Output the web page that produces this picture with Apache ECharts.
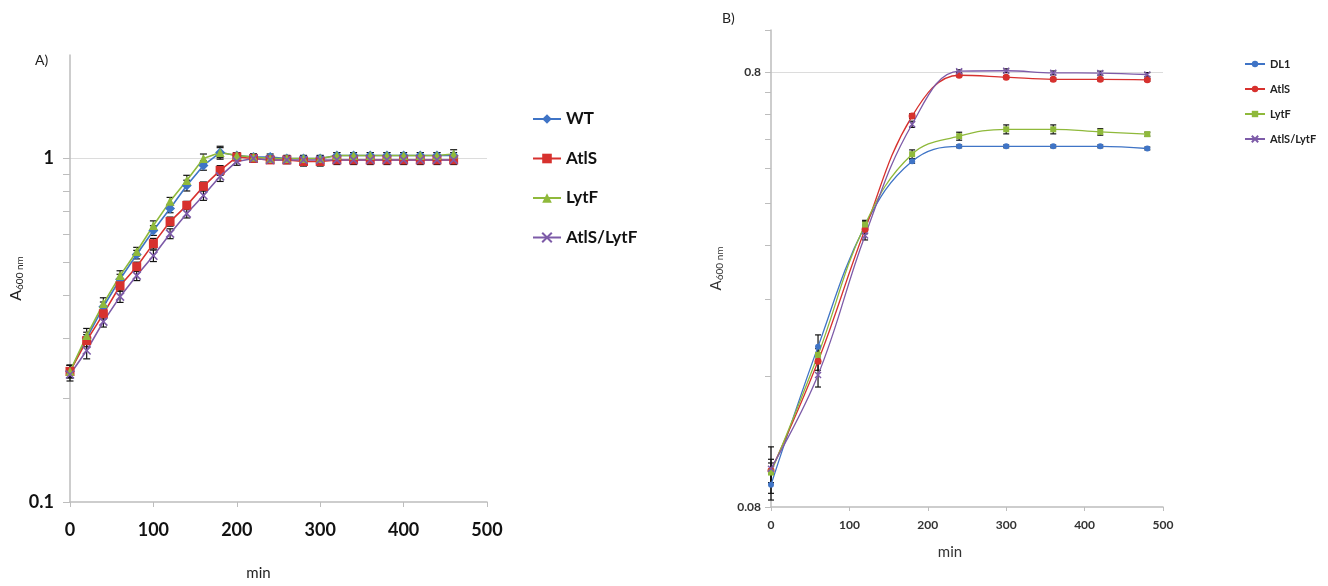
<!DOCTYPE html>
<html><head><meta charset="utf-8">
<script src="https://cdn.jsdelivr.net/npm/echarts@6/dist/echarts.min.js"></script>
<style>html,body{margin:0;padding:0;background:#fff}#c{width:1328px;height:586px}</style>
</head><body><div id="c"></div>
<script>
// ---- Panel A data ----
const timeA = [0,20,40,60,80,100,120,140,160,180,200,220,240,260,280,300,320,340,360,380,400,420,440,460];
const wtA    = [0.24,0.30,0.37,0.445,0.525,0.617,0.715,0.834,0.954,1.04,1.02,1.01,1.01,1.0,1.0,1.0,1.02,1.02,1.02,1.02,1.02,1.02,1.02,1.02];
const atlsA  = [0.24,0.295,0.353,0.426,0.484,0.565,0.655,0.730,0.829,0.923,1.01,1.0,0.99,0.99,0.98,0.98,0.99,0.99,0.99,0.99,0.99,0.99,0.99,0.99];
const lytfA  = [0.24,0.305,0.378,0.456,0.536,0.638,0.750,0.863,1.0,1.04,1.02,1.01,1.0,1.0,1.0,1.0,1.02,1.02,1.02,1.02,1.02,1.02,1.02,1.03];
const dblA   = [0.235,0.276,0.335,0.396,0.456,0.521,0.604,0.691,0.780,0.887,0.98,1.0,0.99,0.99,0.99,0.99,0.99,0.99,0.99,0.99,0.99,0.99,0.99,0.99];
const wtAErr   = [0.01,0.012,0.012,0.015,0.015,0.02,0.02,0.03,0.03,0.045,0.02,0.02,0.02,0.02,0.02,0.02,0.02,0.02,0.02,0.02,0.02,0.02,0.02,0.02];
const atlsAErr = [0.01,0.012,0.012,0.015,0.015,0.02,0.02,0.02,0.025,0.03,0.025,0.025,0.02,0.025,0.03,0.03,0.03,0.03,0.03,0.03,0.03,0.03,0.03,0.03];
const lytfAErr = [0.01,0.015,0.015,0.015,0.015,0.02,0.02,0.03,0.03,0.035,0.02,0.02,0.02,0.02,0.02,0.02,0.02,0.02,0.02,0.02,0.02,0.02,0.02,0.03];
const dblAErr  = [0.01,0.015,0.012,0.015,0.015,0.02,0.02,0.02,0.025,0.03,0.025,0.02,0.02,0.02,0.02,0.02,0.02,0.02,0.02,0.02,0.02,0.02,0.02,0.02];
const namesA = ['WT','AtlS','LytF','AtlS/LytF'];
const yTicksA = [0.1,0.2,0.3,0.4,0.5,0.6,0.7,0.8,0.9,1];
const yLabelsA = [0.1,1];
const xTicks = [0,100,200,300,400,500];

// ---- Panel B data ----
const timeB = [0,60,120,180,240,300,360,420,480];
const dl1B  = [0.090,0.187,0.355,0.499,0.540,0.540,0.540,0.540,0.534];
const atlsB = [0.097,0.173,0.348,0.634,0.787,0.779,0.770,0.770,0.768];
const lytfB = [0.096,0.179,0.357,0.518,0.570,0.591,0.591,0.583,0.576];
const dblB  = [0.098,0.161,0.337,0.607,0.804,0.806,0.797,0.796,0.790];
const dl1BErr  = [0.007,0.012,0.008,0.005,0.004,0.004,0.004,0.004,0.004];
const atlsBErr = [0.006,0.008,0.008,0.008,0.006,0.006,0.006,0.006,0.006];
const lytfBErr = [0.005,0.006,0.008,0.012,0.012,0.014,0.014,0.010,0.006];
const dblBErr  = [0.012,0.010,0.008,0.010,0.006,0.008,0.008,0.008,0.008];
const namesB = ['DL1','AtlS','LytF','AtlS/LytF'];
const yTicksB = [0.08,0.16,0.24,0.32,0.40,0.48,0.56,0.64,0.72,0.8,1.0];
const yLabelsB = [0.08,0.8];

const colors = ['#3f74c6','#d7312e','#8fb93b','#7d5ba8'];
const xShape = 'path://M0,0L10,10M10,0L0,10';

function pairs(t, v){ return t.map((x,i)=>[x, v[i]]); }
function errData(t, v, e){ return t.map((x,i)=>[x, v[i]-e[i], v[i]+e[i]]); }
function errSeries(t, v, e, xi, yi, cap){
  return {
    type:'custom', xAxisIndex:xi, yAxisIndex:yi, silent:true, z:1,
    data: errData(t,v,e),
    renderItem: function(params, api){
      const lo = api.coord([api.value(0), api.value(1)]);
      const hi = api.coord([api.value(0), api.value(2)]);
      const st = {stroke:'#111', lineWidth:1.2};
      return {type:'group', children:[
        {type:'line', shape:{x1:lo[0],y1:lo[1],x2:hi[0],y2:hi[1]}, style:st},
        {type:'line', shape:{x1:lo[0]-cap,y1:lo[1],x2:lo[0]+cap,y2:lo[1]}, style:st},
        {type:'line', shape:{x1:hi[0]-cap,y1:hi[1],x2:hi[0]+cap,y2:hi[1]}, style:st}
      ]};
    }
  };
}

const axisGray = '#bdbdbd';
const chart = echarts.init(document.getElementById('c'));

const seriesA = [
  {name:namesA[0], data:pairs(timeA,wtA), symbol:'diamond', symbolSize:10},
  {name:namesA[1], data:pairs(timeA,atlsA), symbol:'rect', symbolSize:9},
  {name:namesA[2], data:pairs(timeA,lytfA), symbol:'triangle', symbolSize:9},
  {name:namesA[3], data:pairs(timeA,dblA), symbol:xShape, symbolSize:8}
].map((s,i)=>Object.assign({
  type:'line', xAxisIndex:0, yAxisIndex:0, z:3,
  lineStyle:{width:1.6, color:colors[i]},
  itemStyle:{color:colors[i], borderColor:colors[i], borderWidth: i===3?1.6:0}
}, s));
seriesA[0].markLine = {silent:true, symbol:'none', label:{show:false},
  lineStyle:{color:'#dcdcdc', type:'solid', width:1}, data:[{yAxis:1}], z:0};

const seriesB = [
  {name:'B:'+namesB[0], data:pairs(timeB,dl1B), symbol:'circle', symbolSize:6},
  {name:'B:'+namesB[1], data:pairs(timeB,atlsB), symbol:'circle', symbolSize:7},
  {name:'B:'+namesB[2], data:pairs(timeB,lytfB), symbol:'rect', symbolSize:6},
  {name:'B:'+namesB[3], data:pairs(timeB,dblB), symbol:xShape, symbolSize:6}
].map((s,i)=>Object.assign({
  type:'line', xAxisIndex:1, yAxisIndex:1, smooth:0.4, z:3,
  lineStyle:{width:1.3, color:colors[i]},
  itemStyle:{color:colors[i], borderColor:colors[i], borderWidth: i===3?1.4:0}
}, s));
seriesB[0].markLine = {silent:true, symbol:'none', label:{show:false},
  lineStyle:{color:'#dcdcdc', type:'solid', width:1}, data:[{yAxis:0.8}], z:0};

const errs = [
  errSeries(timeA, wtA, wtAErr, 0, 0, 3.5),
  errSeries(timeA, atlsA, atlsAErr, 0, 0, 3.5),
  errSeries(timeA, lytfA, lytfAErr, 0, 0, 3.5),
  errSeries(timeA, dblA, dblAErr, 0, 0, 3.5),
  errSeries(timeB, dl1B, dl1BErr, 1, 1, 3),
  errSeries(timeB, atlsB, atlsBErr, 1, 1, 3),
  errSeries(timeB, lytfB, lytfBErr, 1, 1, 3),
  errSeries(timeB, dblB, dblBErr, 1, 1, 3)
];

chart.setOption({
  animation:false,
  backgroundColor:'#fff',
  textStyle:{fontFamily:'Lato'},
  graphic:[
    {type:'text', left:35, top:53, style:{text:'A)', font:'14px Lato', fill:'#222'}},
    {type:'text', left:722, top:11, style:{text:'B)', font:'14px Lato', fill:'#222'}}
  ],
  legend:[
    {data:namesA, orient:'vertical', left:527, top:104, itemWidth:28, itemHeight:12, itemGap:19.5,
     textStyle:{fontFamily:'Lato', fontWeight:'bold', fontSize:17, color:'#111', lineHeight:20}},
    {data:namesB.map(n=>'B:'+n), orient:'vertical', left:1239, top:52, itemWidth:20, itemHeight:8, itemGap:11,
     formatter:n=>n.replace(/^B:/,''),
     textStyle:{fontFamily:'Lato', fontWeight:'bold', fontSize:11, color:'#222', lineHeight:14}}
  ],
  grid:[
    {left:70, top:55, width:417, height:448},
    {left:771, top:30, width:392, height:477}
  ],
  xAxis:[
    {type:'value', gridIndex:0, min:0, max:500, interval:100,
     name:'min', nameLocation:'middle', nameGap:64,
     nameTextStyle:{fontFamily:'Lato', fontSize:15, color:'#222', padding:[0,40,0,0]},
     axisLine:{lineStyle:{color:axisGray, width:1.5}},
     axisTick:{show:true, length:5, lineStyle:{color:axisGray}},
     splitLine:{show:false},
     axisLabel:{margin:19, fontFamily:'Lato', fontWeight:'bold', fontSize:18, color:'#111'}},
    {type:'value', gridIndex:1, min:0, max:500, interval:100,
     name:'min', nameLocation:'middle', nameGap:38,
     nameTextStyle:{fontFamily:'Lato', fontSize:15, color:'#333', padding:[0,34,0,0]},
     axisLine:{lineStyle:{color:axisGray, width:1.5}},
     axisTick:{show:true, length:4, lineStyle:{color:axisGray}},
     splitLine:{show:false},
     axisLabel:{margin:12, fontFamily:'Lato', fontWeight:'bold', fontSize:12, color:'#333'}}
  ],
  yAxis:[
    {type:'log', logBase:10, gridIndex:0, min:0.1, max:2,
     name:'{a|A}{b|600 nm}', nameLocation:'middle', nameRotate:90, nameGap:38,
     nameTextStyle:{rich:{a:{fontFamily:'Lato', fontSize:16, color:'#222'},
                          b:{fontFamily:'Lato', fontSize:10, color:'#222', padding:[8,0,0,0]}}},
     axisLine:{show:true, lineStyle:{color:axisGray, width:1.5}},
     axisTick:{show:true, length:7, customValues:yTicksA, lineStyle:{color:axisGray}},
     splitLine:{show:false}, minorTick:{show:false}, minorSplitLine:{show:false},
     axisLabel:{customValues:yLabelsA, margin:16, formatter:v=>String(v),
       fontFamily:'Lato', fontWeight:'bold', fontSize:18, color:'#111'}},
    {type:'log', logBase:10, gridIndex:1, min:0.08, max:1,
     name:'{a|A}{b|600 nm}', nameLocation:'middle', nameRotate:90, nameGap:46,
     nameTextStyle:{rich:{a:{fontFamily:'Lato', fontSize:15, color:'#333'},
                          b:{fontFamily:'Lato', fontSize:10, color:'#333', padding:[8,0,0,0]}}},
     axisLine:{show:true, lineStyle:{color:axisGray, width:1.5}},
     axisTick:{show:true, length:6, customValues:yTicksB, lineStyle:{color:axisGray}},
     splitLine:{show:false}, minorTick:{show:false}, minorSplitLine:{show:false},
     axisLabel:{customValues:yLabelsB, margin:10, formatter:v=>String(v),
       fontFamily:'Lato', fontWeight:'bold', fontSize:12, color:'#333'}}
  ],
  series: errs.concat(seriesA, seriesB)
});
</script>
</body></html>
